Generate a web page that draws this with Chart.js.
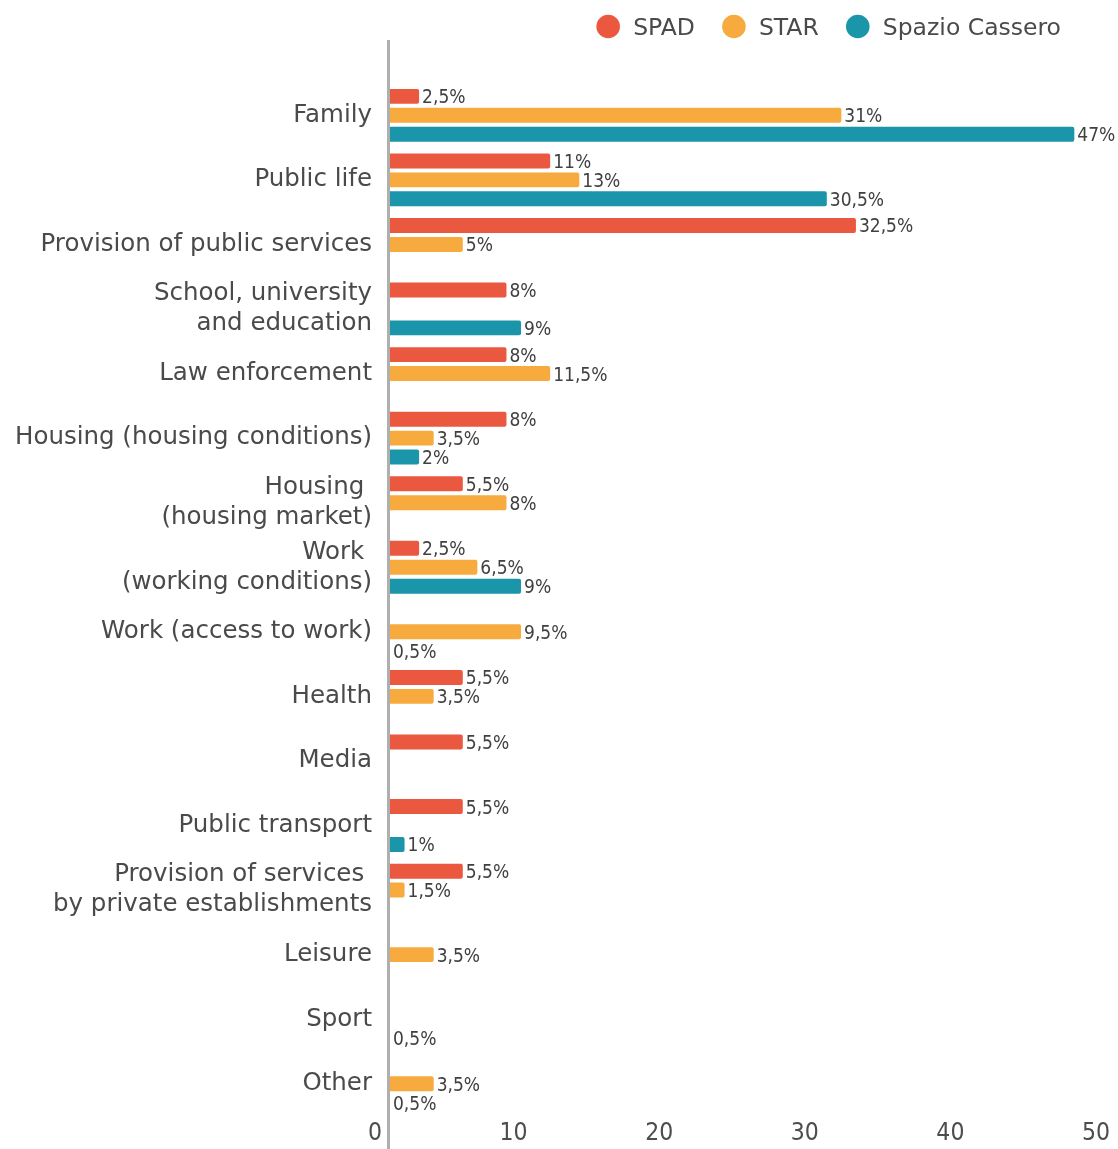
<!DOCTYPE html>
<html><head><meta charset="utf-8">
<script src="https://cdn.jsdelivr.net/npm/chart.js@4.4.0/dist/chart.umd.min.js"></script>
<style>html,body{margin:0;padding:0;background:#fff;}#wrap{width:1118px;height:1149px;}</style>
</head><body><div id="wrap"><canvas id="c" width="1118" height="1149"></canvas></div>
<script>
// ---- data ----
const categories = [
  'Family',
  'Public life',
  'Provision of public services',
  ['School, university', 'and education'],
  'Law enforcement',
  'Housing (housing conditions)',
  ['Housing ', '(housing market)'],
  ['Work ', '(working conditions)'],
  'Work (access to work)',
  'Health',
  'Media',
  'Public transport',
  ['Provision of services ', 'by private establishments'],
  'Leisure',
  'Sport',
  'Other'
];
const seriesNames = ['SPAD', 'STAR', 'Spazio Cassero'];
// bar lengths as drawn in the picture
const spadValues = [2, 11, 32, 8, 8, 8, 5, 2, null, 5, 5, 5, 5, null, null, null];
const starValues = [31, 13, 5, null, 11, 3, 8, 6, 9, 3, null, null, 1, 3, null, 3];
const casseroValues = [47, 30, null, 9, null, 2, null, 9, 0, null, null, 1, null, null, 0, 0];
// value labels as printed in the picture
const spadLabels = ['2,5%', '11%', '32,5%', '8%', '8%', '8%', '5,5%', '2,5%', null, '5,5%', '5,5%', '5,5%', '5,5%', null, null, null];
const starLabels = ['31%', '13%', '5%', null, '11,5%', '3,5%', '8%', '6,5%', '9,5%', '3,5%', null, null, '1,5%', '3,5%', null, '3,5%'];
const casseroLabels = ['47%', '30,5%', null, '9%', null, '2%', null, '9%', '0,5%', null, null, '1%', null, null, '0,5%', '0,5%'];
const xTicks = [0, 10, 20, 30, 40, 50];

// ---- styles ----
const FONT = "'DejaVu Sans', sans-serif";
const FONT_COND = "'DejaVu Sans Condensed', 'DejaVu Sans', sans-serif";
const FONT_NARROW = "'Liberation Sans Narrow', 'DejaVu Sans Condensed', sans-serif";
const COLORS = ['#EA5840', '#F7AA3D', '#1B95AA'];
const allValues = [spadValues, starValues, casseroValues];
const allLabels = [spadLabels, starLabels, casseroLabels];

const valueLabelPlugin = {
  id: 'valueLabels',
  afterDatasetsDraw(chart) {
    const ctx = chart.ctx;
    ctx.save();
    ctx.font = '19px ' + FONT_COND;
    ctx.fillStyle = '#404040';
    ctx.textAlign = 'left';
    ctx.textBaseline = 'alphabetic';
    chart.data.datasets.forEach((ds, i) => {
      const meta = chart.getDatasetMeta(i);
      meta.data.forEach((bar, j) => {
        const t = allLabels[i][j];
        if (t == null || ds.data[j] == null) return;
        ctx.fillText(t, bar.x + 3, bar.y + 7);
      });
    });
    ctx.restore();
  }
};

const axisPlugin = {
  id: 'axisDecor',
  afterDraw(chart) {
    const ctx = chart.ctx;
    const xs = chart.scales.x;
    const left = chart.chartArea.left;
    ctx.save();
    // vertical axis line
    ctx.strokeStyle = '#AFAFAF';
    ctx.lineWidth = 3;
    ctx.beginPath();
    ctx.moveTo(left - 1.5, 40);
    ctx.lineTo(left - 1.5, chart.height);
    ctx.stroke();
    // x tick labels
    ctx.font = '24.5px ' + FONT_NARROW;
    ctx.fillStyle = '#4d4d4d';
    ctx.textAlign = 'right';
    ctx.textBaseline = 'alphabetic';
    xTicks.forEach(v => {
      ctx.fillText(String(v), xs.getPixelForValue(v) - 8, 1139.5);
    });
    // legend
    ctx.font = '23.5px ' + FONT;
    ctx.textAlign = 'left';
    let x = 1061;
    const items = [];
    for (let i = seriesNames.length - 1; i >= 0; i--) {
      const w = ctx.measureText(seriesNames[i]).width;
      const tx = x - w;
      const cx = tx - 25;
      items.push({ i, tx, cx });
      x = cx - 12 - 27;
    }
    items.forEach(it => {
      ctx.fillStyle = COLORS[it.i];
      ctx.beginPath();
      ctx.arc(it.cx, 26.5, 11.8, 0, Math.PI * 2);
      ctx.fill();
      ctx.fillStyle = '#4a4a4a';
      ctx.fillText(seriesNames[it.i], it.tx, 35);
    });
    ctx.restore();
  }
};

new Chart(document.getElementById('c'), {
  type: 'bar',
  data: {
    labels: categories,
    datasets: seriesNames.map((n, i) => ({
      label: n,
      data: allValues[i],
      backgroundColor: COLORS[i],
      borderWidth: 0,
      borderRadius: 2,
      borderSkipped: 'start',
      categoryPercentage: 0.879,
      barPercentage: 0.79
    }))
  },
  options: {
    indexAxis: 'y',
    responsive: false,
    animation: false,
    devicePixelRatio: 1,
    layout: { padding: { top: 83, bottom: 28, left: 0, right: 0 } },
    plugins: { legend: { display: false }, tooltip: { enabled: false } },
    scales: {
      x: {
        type: 'linear', min: 0, max: 50, display: false
      },
      y: {
        type: 'category',
        grid: { display: false, drawTicks: false },
        border: { display: false },
        ticks: {
          padding: 18,
          color: '#4a4a4a',
          font: { family: FONT, size: 24.5, lineHeight: 1.22 },
          autoSkip: false
        },
        afterFit(scale) { scale.width = 390; }
      }
    }
  },
  plugins: [valueLabelPlugin, axisPlugin]
});
</script>
</body></html>
